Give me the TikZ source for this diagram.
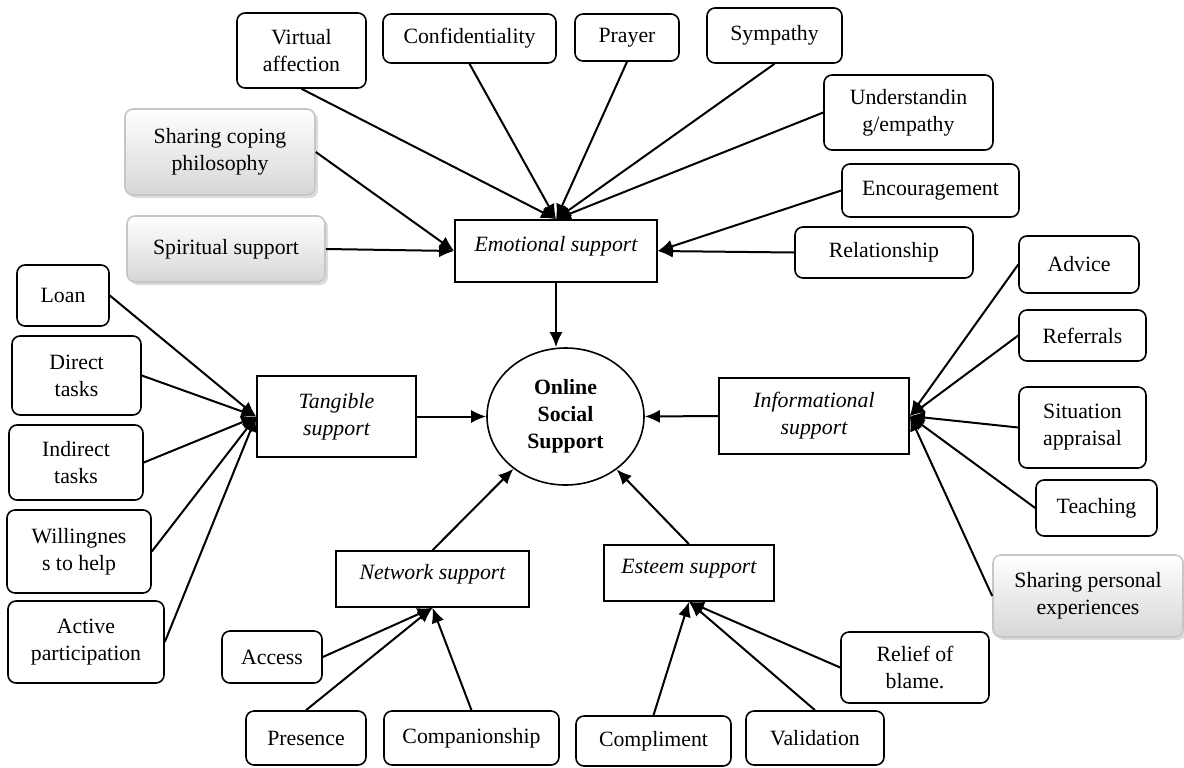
\documentclass[tikz,border=0pt]{standalone}
\usepackage{fontspec}
\setmainfont{Liberation Serif}
\usetikzlibrary{arrows.meta,shapes.geometric,shadows}
\newcommand{\boxfont}{\fontsize{10.9pt}{13.5pt}\selectfont}
\tikzset{
  bw/.style={minimum width=#1*0.5pt},
  bh/.style={minimum height=#1*0.5pt},
  leaf/.style={draw, rounded corners=4pt, line width=0.8pt, align=center, font=\boxfont, inner sep=1pt},
  gleaf/.style={leaf, draw=gray!45, top color=white, bottom color=gray!32,
    drop shadow={shadow xshift=1.5pt, shadow yshift=-1.5pt, fill=gray!55}},
  hub/.style={draw, line width=0.8pt, align=center, font=\boxfont\itshape, inner sep=1pt},
  high/.style={text depth=7pt},
  core/.style={draw, ellipse, line width=0.8pt, align=center, font=\boxfont\bfseries, inner sep=0pt},
  link/.style={->, line width=1pt}
}
\begin{document}
\begin{tikzpicture}[x=0.5pt, y=-0.5pt, >={Latex[length=7.5pt,width=6.5pt]}]
\useasboundingbox (0,0) rectangle (1184,767);
% centre and the five kinds of support
\node[core, bw=157, bh=137] (oss) at (565.5,416.5) {Online\\Social\\Support};
\node[hub, high, bw=202, bh=62] (emo) at (556,251) {Emotional support};
\node[hub, bw=159, bh=81] (tan) at (336.5,416.5) {Tangible\\support};
\node[hub, bw=190, bh=76] (info) at (814,416) {Informational\\support};
\node[hub, high, bw=193, bh=56] (net) at (432.5,579) {Network support};
\node[hub, high, bw=170, bh=56] (est) at (689,573) {Esteem support};
%
% emotional
\node[leaf, bw=129, bh=75] (va) at (301.5,50.5) {Virtual\\affection};
\node[leaf, bw=173, bh=49] (conf) at (469.5,38.5) {Confidentiality};
\node[leaf, bw=104, bh=47] (pray) at (627,37.5) {Prayer};
\node[leaf, bw=135, bh=55] (symp) at (774.5,35.5) {Sympathy};
\node[leaf, bw=169, bh=75] (und) at (908.5,112.5) {Understandin\\g/empathy};
\node[leaf, bw=177, bh=53] (enc) at (930.5,190.5) {Encouragement};
\node[leaf, bw=178, bh=51] (rel) at (884,252.5) {Relationship};
\node[gleaf, bw=190, bh=86] (scp) at (220,152) {Sharing coping\\philosophy};
\node[gleaf, bw=198, bh=66] (spir) at (226,249) {Spiritual support};
%
% tangible
\node[leaf, bw=92, bh=61] (loan) at (63,295.5) {Loan};
\node[leaf, bw=129, bh=79] (dir) at (76.5,375.5) {Direct\\tasks};
\node[leaf, bw=134, bh=75] (ind) at (76,462.5) {Indirect\\tasks};
\node[leaf, bw=144, bh=83] (wil) at (79,551.5) {Willingnes\\s to help};
\node[leaf, bw=156, bh=82] (act) at (86,642) {Active\\participation};
%
% informational
\node[leaf, bw=120, bh=57] (adv) at (1079,264.5) {Advice};
\node[leaf, bw=127, bh=51] (ref) at (1082.5,335.5) {Referrals};
\node[leaf, bw=127, bh=81] (sit) at (1082.5,427.5) {Situation\\appraisal};
\node[leaf, bw=121, bh=56] (tea) at (1096.5,508) {Teaching};
\node[gleaf, bw=190, bh=82] (shp) at (1088,596) {Sharing personal\\experiences};
%
% network and esteem
\node[leaf, bw=100, bh=52] (acc) at (272,657) {Access};
\node[leaf, bw=120, bh=54] (pres) at (306,738) {Presence};
\node[leaf, bw=175, bh=54] (comp) at (471.5,738) {Companionship};
\node[leaf, bw=155, bh=50] (compl) at (653.5,741) {Compliment};
\node[leaf, bw=138, bh=54] (val) at (815,738) {Validation};
\node[leaf, bw=148, bh=71] (relief) at (915,667.5) {Relief of\\blame.};
%
\draw[link] (emo.south) -- (emo.south |- oss.north);
\draw[link] (tan.east) -- (oss.west);
\draw[link] (info.west) -- (oss.east);
\draw[link] (net.north) -- (oss);
\draw[link] (est.north) -- (oss);
%
\draw[link] (va.south) -- (emo.north);
\draw[link] (conf.south) -- (emo.north);
\draw[link] (pray.south) -- (emo.north);
\draw[link] (symp.south) -- (emo.north);
\draw[link] (und.west) -- (emo.north);
\draw[link] (enc.west) -- (emo.east);
\draw[link] (rel.west) -- (emo.east);
\draw[link] (scp.east) -- (emo.west);
\draw[link] (spir.east) -- (emo.west);
%
\draw[link] (loan.east) -- (tan.west);
\draw[link] (dir.east) -- (tan.west);
\draw[link] (ind.east) -- (tan.west);
\draw[link] (wil.east) -- (tan.west);
\draw[link] (act.east) -- (tan.west);
%
\draw[link] (adv.west) -- (info.east);
\draw[link] (ref.west) -- (info.east);
\draw[link] (sit.west) -- (info.east);
\draw[link] (tea.west) -- (info.east);
\draw[link] (shp.west) -- (info.east);
%
\draw[link] (acc.east) -- (net.south);
\draw[link] (pres.north) -- (net.south);
\draw[link] (comp.north) -- (net.south);
\draw[link] (compl.north) -- (est.south);
\draw[link] (val.north) -- (est.south);
\draw[link] (relief.west) -- (est.south);
\end{tikzpicture}
\end{document}
